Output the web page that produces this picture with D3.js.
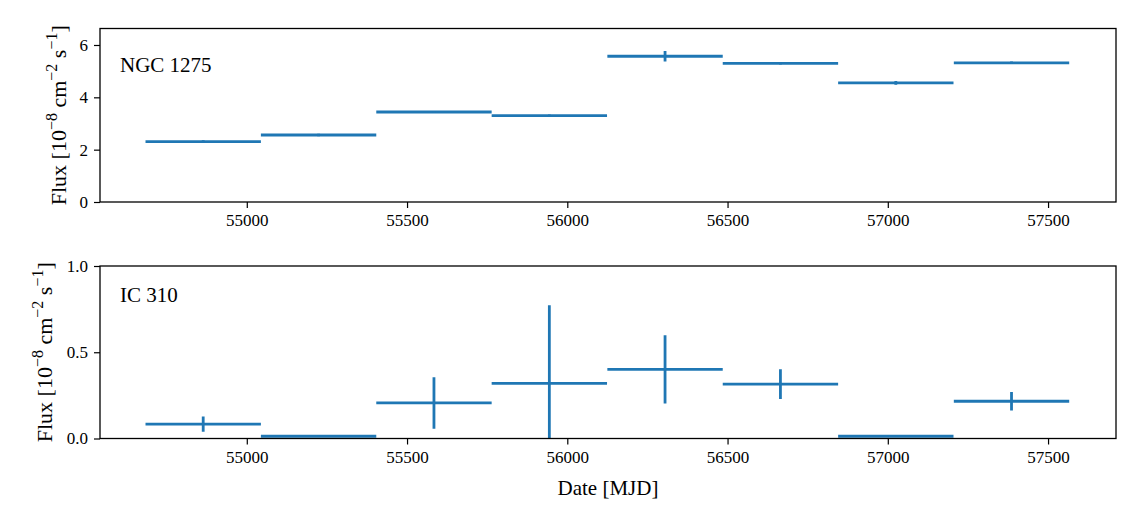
<!DOCTYPE html>
<html>
<head>
<meta charset="utf-8">
<script src="https://cdn.jsdelivr.net/npm/d3@7"></script>
<style>
  body { margin: 0; background: #fff; }
  svg text { font-family: "Liberation Serif", "DejaVu Serif", serif; fill: #000; }
</style>
</head>
<body>
<script>
var width = 1143;
var height = 525;

// bin centres [MJD] and half width of each bin
var centers = [54864, 55224, 55584, 55944, 56305, 56665, 57025, 57386];
var halfWidth = 180;

// NGC 1275 flux and error [1e-8 cm^-2 s^-1]
var ngcFlux = [2.31, 2.56, 3.44, 3.30, 5.57, 5.30, 4.55, 5.32];
var ngcErr = [0.05, 0.05, 0.04, 0.04, 0.2, 0.05, 0.07, 0.05];

// IC 310 flux and error
var icFlux = [0.083, 0.013, 0.206, 0.320, 0.401, 0.315, 0.013, 0.216];
var icErr = [0.044, 0.004, 0.149, 0.453, 0.198, 0.086, 0.004, 0.054];

var xTicks = [55000, 55500, 56000, 56500, 57000, 57500];
var ngcTicks = [0, 2, 4, 6];
var icTicks = [0, 0.5, 1.0];

var blue = "#1f77b4";

var svg = d3.select("body")
    .append("svg")
    .attr("width", width)
    .attr("height", height);

var left = 100, right = 1116;

var x = d3.scaleLinear()
    .domain([54542, 57712])
    .range([left, right]);

var panels = [
    {name: "NGC 1275", flux: ngcFlux, err: ngcErr, top: 28.5, bottom: 202, ymax: 6.63,
     ticks: ngcTicks, fmt: d3.format("d"), labelY: 71.5, ylabX: 66},
    {name: "IC 310", flux: icFlux, err: icErr, top: 266, bottom: 438.5, ymax: 1.0,
     ticks: icTicks, fmt: d3.format(".1f"), labelY: 301.5, ylabX: 52}
];

panels.forEach(function(p, i) {
    var y = d3.scaleLinear()
        .domain([0, p.ymax])
        .range([p.bottom, p.top]);

    var clipId = "clip" + i;
    svg.append("clipPath")
        .attr("id", clipId)
        .append("rect")
        .attr("x", left)
        .attr("y", p.top)
        .attr("width", right - left)
        .attr("height", p.bottom - p.top);

    var marks = svg.append("g").attr("clip-path", "url(#" + clipId + ")");

    var rows = centers.map(function(c, k) { return {c: c, v: p.flux[k], e: p.err[k]}; });

    marks.selectAll("line.h")
        .data(rows)
        .enter()
        .append("line")
        .attr("class", "h")
        .attr("x1", function(d) { return x(d.c - halfWidth); })
        .attr("x2", function(d) { return x(d.c + halfWidth); })
        .attr("y1", function(d) { return y(d.v); })
        .attr("y2", function(d) { return y(d.v); })
        .attr("stroke", blue)
        .attr("stroke-width", 2.8);

    marks.selectAll("line.v")
        .data(rows)
        .enter()
        .append("line")
        .attr("class", "v")
        .attr("x1", function(d) { return x(d.c); })
        .attr("x2", function(d) { return x(d.c); })
        .attr("y1", function(d) { return y(d.v - d.e); })
        .attr("y2", function(d) { return y(d.v + d.e); })
        .attr("stroke", blue)
        .attr("stroke-width", 2.8);

    // frame
    svg.append("rect")
        .attr("x", left)
        .attr("y", p.top)
        .attr("width", right - left)
        .attr("height", p.bottom - p.top)
        .attr("fill", "none")
        .attr("stroke", "#000")
        .attr("stroke-width", 1.3);

    var xAxis = svg.append("g")
        .attr("transform", "translate(0," + p.bottom + ")")
        .call(d3.axisBottom(x).tickValues(xTicks).tickFormat(d3.format("d")).tickSize(6).tickPadding(6));
    var yAxis = svg.append("g")
        .attr("transform", "translate(" + left + ",0)")
        .call(d3.axisLeft(y).tickValues(p.ticks).tickFormat(p.fmt).tickSize(6).tickPadding(6));

    [xAxis, yAxis].forEach(function(a) {
        a.select(".domain").remove();
        a.selectAll(".tick line").attr("stroke", "#000").attr("stroke-width", 1.2);
        a.selectAll(".tick text")
            .attr("font-size", "17px")
            .attr("font-family", "'Liberation Serif', serif")
            .attr("fill", "#000");
    });

    svg.append("text")
        .attr("x", 120)
        .attr("y", p.labelY)
        .attr("font-size", "21px")
        .text(p.name);

    var cy = (p.top + p.bottom) / 2;
    var ylab = svg.append("text")
        .attr("transform", "translate(" + p.ylabX + "," + cy + ") rotate(-90)")
        .attr("text-anchor", "middle")
        .attr("font-size", "22px");
    ylab.append("tspan").text("Flux [10");
    ylab.append("tspan").attr("dy", -9).attr("font-size", "16px").text("\u22128");
    ylab.append("tspan").attr("dy", 9).text(" cm");
    ylab.append("tspan").attr("dy", -9).attr("font-size", "16px").text("\u22122");
    ylab.append("tspan").attr("dy", 9).text(" s");
    ylab.append("tspan").attr("dy", -9).attr("font-size", "16px").text("\u22121");
    ylab.append("tspan").attr("dy", 9).text("]");
});

svg.append("text")
    .attr("x", (left + right) / 2)
    .attr("y", 495)
    .attr("text-anchor", "middle")
    .attr("font-size", "21px")
    .text("Date [MJD]");
</script>
</body>
</html>
